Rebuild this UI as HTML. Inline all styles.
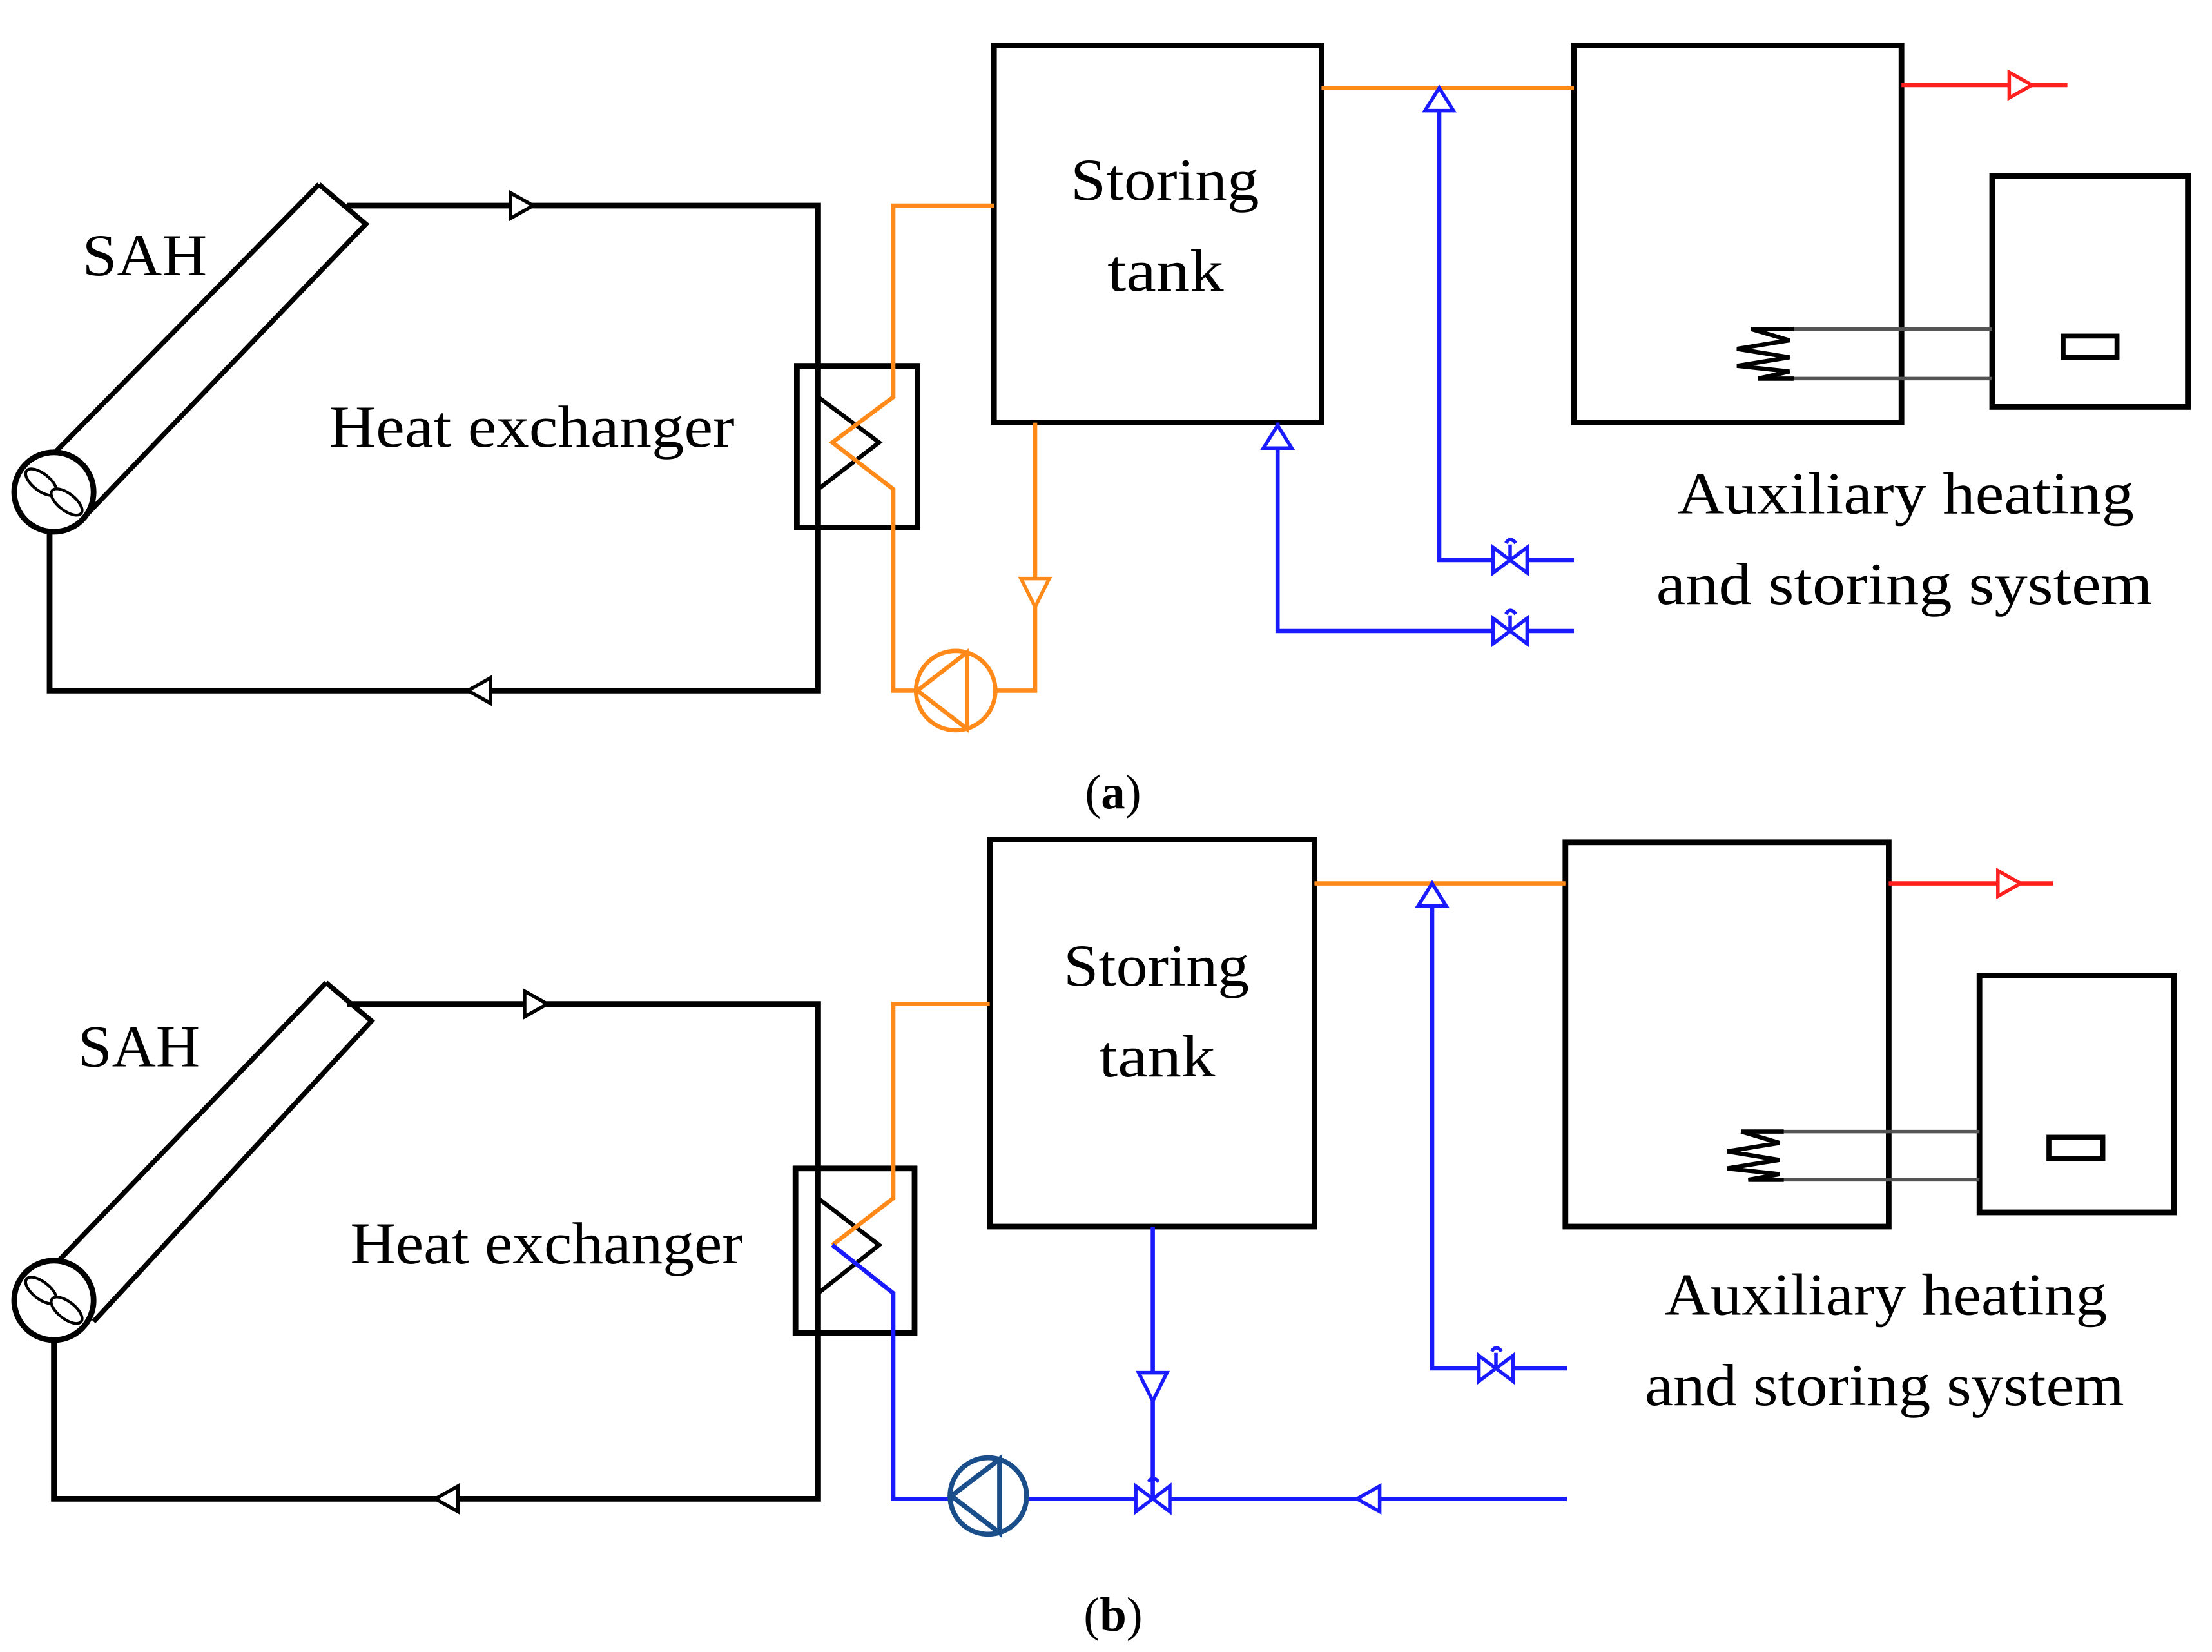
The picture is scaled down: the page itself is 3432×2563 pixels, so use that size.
<!DOCTYPE html>
<html><head><meta charset="utf-8"><style>html,body{margin:0;padding:0;background:#fff}svg{display:block}</style></head>
<body>
<svg width="3432" height="2563" viewBox="0 0 1560 1165" xmlns="http://www.w3.org/2000/svg" font-family="Liberation Serif, serif">
<defs>
<g id="valve" fill="#fff" stroke="#1a1aff" stroke-width="2.5">
  <polygon points="-12,-9 0,0 -12,9"/><polygon points="12,-9 0,0 12,9"/>
  <path d="M0,0 V-11 M-3,-12 Q0,-17 4,-12" fill="none"/>
</g>
<g id="fan" fill="#fff" stroke="#000">
  <circle r="28" stroke-width="4"/>
  <ellipse cx="-9" cy="-7" rx="13" ry="6" transform="rotate(38 -9 -7)" stroke-width="2"/>
  <ellipse cx="9" cy="7" rx="13" ry="6" transform="rotate(38 9 7)" stroke-width="2"/>
</g>
</defs>
<rect width="1560" height="1165" fill="#fff"/>

<!-- ===== Panel (a) ===== -->
<g fill="none" stroke="#000" stroke-width="4">
  <path d="M245,145 H577 V487 H35 V375"/>
  <rect x="701" y="32" width="231" height="266"/>
  <rect x="1110" y="32" width="231" height="266"/>
  <rect x="1405" y="124" width="138" height="163"/>
  <rect x="562" y="258" width="85" height="114"/>
</g>
<rect x="1455" y="237" width="38" height="15" fill="none" stroke="#000" stroke-width="3.5"/>
<path d="M1255,232 H1405 M1255,267 H1405" stroke="#555" stroke-width="2.5"/>
<path d="M1265,232 H1235 L1262,240 L1225,246 L1262,252 L1225,258 L1262,262 L1240,267 H1265" fill="none" stroke="#000" stroke-width="3"/>
<path d="M225,130 L258,158 L62,362 M225,130 L28,330" fill="none" stroke="#000" stroke-width="3.5"/>
<use href="#fan" x="38" y="347"/>
<path d="M577,258 V280 L620,312 L577,345 V372" fill="none" stroke="#000" stroke-width="3"/>
<polygon points="360,136 376,145 360,154" fill="#fff" stroke="#000" stroke-width="2.5"/>
<polygon points="346,478 330,487 346,496" fill="#fff" stroke="#000" stroke-width="2.5"/>
<g fill="none" stroke="#ff8a1a" stroke-width="3">
  <path d="M701,145 H630 V280 L587,312 L630,345 V487 H646"/>
  <path d="M702,487 H730 V298"/>
  <path d="M932,62 H1110"/>
  <circle cx="674" cy="487" r="28"/>
  <polygon points="647,487 682,460 682,514"/>
</g>
<polygon points="720,408 740,408 730,428" fill="#fff" stroke="#ff8a1a" stroke-width="2.5"/>
<g fill="none" stroke="#1a1aff" stroke-width="3">
  <path d="M1015,62 V395 H1110"/>
  <path d="M901,298 V445 H1110"/>
</g>
<polygon points="1015,62 1005,78 1025,78" fill="#fff" stroke="#1a1aff" stroke-width="2.5"/>
<polygon points="901,300 891,316 911,316" fill="#fff" stroke="#1a1aff" stroke-width="2.5"/>
<use href="#valve" x="1065" y="395"/>
<use href="#valve" x="1065" y="445"/>
<path d="M1341,60 H1458" stroke="#ff2020" stroke-width="3"/>
<polygon points="1417,51 1433,60 1417,69" fill="#fff" stroke="#ff2020" stroke-width="2.5"/>
<g font-size="42" fill="#000">
  <text x="755" y="141" textLength="133" lengthAdjust="spacingAndGlyphs">Storing</text>
  <text x="781" y="205" textLength="82" lengthAdjust="spacingAndGlyphs">tank</text>
  <text x="232" y="315" textLength="286" lengthAdjust="spacingAndGlyphs">Heat exchanger</text>
  <text x="58" y="194" textLength="88" lengthAdjust="spacingAndGlyphs">SAH</text>
  <text x="1183" y="362" textLength="322" lengthAdjust="spacingAndGlyphs">Auxiliary heating</text>
  <text x="1168" y="426" textLength="350" lengthAdjust="spacingAndGlyphs">and storing system</text>
  <text x="785" y="570" font-size="34" text-anchor="middle">(<tspan font-weight="bold">a</tspan>)</text>
</g>

<!-- ===== Panel (b) ===== -->
<g fill="none" stroke="#000" stroke-width="4">
  <path d="M245,708 H577 V1057 H38 V945"/>
  <rect x="698" y="592" width="229" height="273"/>
  <rect x="1104" y="594" width="228" height="271"/>
  <rect x="1396" y="688" width="137" height="167"/>
  <rect x="561" y="824" width="84" height="116"/>
</g>
<rect x="1445" y="802" width="38" height="15" fill="none" stroke="#000" stroke-width="3.5"/>
<path d="M1248,798 H1396 M1248,832 H1396" stroke="#555" stroke-width="2.5"/>
<path d="M1258,798 H1228 L1255,806 L1218,812 L1255,818 L1218,824 L1255,828 L1233,832 H1258" fill="none" stroke="#000" stroke-width="3"/>
<path d="M230,693 L262,720 L66,932 M230,693 L26,905" fill="none" stroke="#000" stroke-width="3.5"/>
<use href="#fan" x="38" y="917"/>
<path d="M577,824 V845 L620,878 L577,912 V940" fill="none" stroke="#000" stroke-width="3"/>
<polygon points="370,699 386,708 370,717" fill="#fff" stroke="#000" stroke-width="2.5"/>
<polygon points="323,1048 307,1057 323,1066" fill="#fff" stroke="#000" stroke-width="2.5"/>
<g fill="none" stroke="#ff8a1a" stroke-width="3">
  <path d="M698,708 H630 V845 L587,878"/>
  <path d="M927,623 H1104"/>
</g>
<g fill="none" stroke="#1a1aff" stroke-width="3">
  <path d="M587,878 L630,912 V1057 H670"/>
  <path d="M725,1057 H1105"/>
  <path d="M813,865 V1057"/>
  <path d="M1010,623 V965 H1105"/>
</g>
<circle cx="697" cy="1055" r="27" fill="#fff" stroke="#1a4e8a" stroke-width="3.5"/>
<polygon points="671,1055 705,1029 705,1081" fill="none" stroke="#1a4e8a" stroke-width="3.5"/>
<polygon points="803,968 823,968 813,988" fill="#fff" stroke="#1a1aff" stroke-width="2.5"/>
<polygon points="973,1048 957,1057 973,1066" fill="#fff" stroke="#1a1aff" stroke-width="2.5"/>
<polygon points="1010,623 1000,639 1020,639" fill="#fff" stroke="#1a1aff" stroke-width="2.5"/>
<use href="#valve" x="813" y="1057"/>
<use href="#valve" x="1055" y="965"/>
<path d="M1332,623 H1448" stroke="#ff2020" stroke-width="3"/>
<polygon points="1409,614 1425,623 1409,632" fill="#fff" stroke="#ff2020" stroke-width="2.5"/>
<g font-size="42" fill="#000">
  <text x="750" y="695" textLength="131" lengthAdjust="spacingAndGlyphs">Storing</text>
  <text x="775" y="759" textLength="82" lengthAdjust="spacingAndGlyphs">tank</text>
  <text x="247" y="891" textLength="277" lengthAdjust="spacingAndGlyphs">Heat exchanger</text>
  <text x="55" y="752" textLength="86" lengthAdjust="spacingAndGlyphs">SAH</text>
  <text x="1174" y="927" textLength="312" lengthAdjust="spacingAndGlyphs">Auxiliary heating</text>
  <text x="1160" y="991" textLength="338" lengthAdjust="spacingAndGlyphs">and storing system</text>
  <text x="785" y="1150" font-size="34" text-anchor="middle">(<tspan font-weight="bold">b</tspan>)</text>
</g>
</svg>
</body></html>
